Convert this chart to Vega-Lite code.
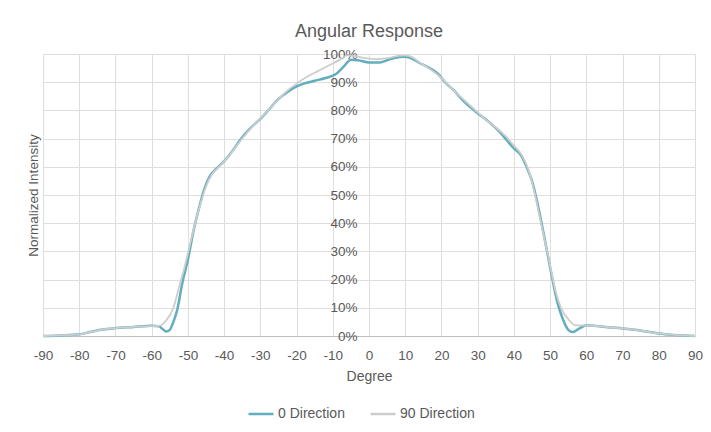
{
  "$schema": "https://vega.github.io/schema/vega-lite/v6.json",
  "autosize": {"type": "none"},
  "width": 652,
  "height": 282,
  "padding": {"left": 43, "top": 54, "right": 16, "bottom": 96},
  "background": "white",
  "config": {
    "font": "Liberation Sans",
    "view": {"stroke": null},
    "axis": {"labelColor": "#595959", "titleColor": "#595959", "labelFont": "Liberation Sans", "titleFont": "Liberation Sans", "titleFontWeight": "normal", "gridColor": "#dedede", "gridWidth": 1}
  },
  "title": {"text": "Angular Response", "fontSize": 18, "fontWeight": "normal", "color": "#595959", "font": "Liberation Sans", "offset": 6},
  "datasets": {
    "d0": [
      {"deg": -90, "v": 0}, {"deg": -85, "v": 0.2}, {"deg": -80, "v": 0.6}, {"deg": -77, "v": 1.4},
      {"deg": -74, "v": 2.2}, {"deg": -70, "v": 2.8}, {"deg": -65, "v": 3.2}, {"deg": -60, "v": 3.6},
      {"deg": -58, "v": 3.5}, {"deg": -57, "v": 2.5}, {"deg": -56, "v": 1.6}, {"deg": -55, "v": 2.2},
      {"deg": -54, "v": 5}, {"deg": -53, "v": 9}, {"deg": -51.5, "v": 19}, {"deg": -50, "v": 27},
      {"deg": -48.5, "v": 37}, {"deg": -47, "v": 45}, {"deg": -45.5, "v": 52}, {"deg": -44, "v": 56.5},
      {"deg": -42, "v": 59.5}, {"deg": -40, "v": 62}, {"deg": -37.5, "v": 66}, {"deg": -35, "v": 70.5},
      {"deg": -32.5, "v": 74}, {"deg": -30, "v": 77}, {"deg": -27.5, "v": 80.5}, {"deg": -25, "v": 84},
      {"deg": -22.5, "v": 86.5}, {"deg": -20, "v": 88.5}, {"deg": -18, "v": 89.5}, {"deg": -15, "v": 90.5},
      {"deg": -12, "v": 91.5}, {"deg": -9, "v": 93}, {"deg": -7, "v": 95.5}, {"deg": -5, "v": 98},
      {"deg": -3, "v": 97.8}, {"deg": 0, "v": 97}, {"deg": 3, "v": 97}, {"deg": 5, "v": 97.8},
      {"deg": 7, "v": 98.6}, {"deg": 10, "v": 99}, {"deg": 12, "v": 98.3}, {"deg": 14, "v": 96.8},
      {"deg": 16, "v": 95.5}, {"deg": 19, "v": 93}, {"deg": 21, "v": 90}, {"deg": 23.5, "v": 87},
      {"deg": 26, "v": 83.5}, {"deg": 29, "v": 80}, {"deg": 31, "v": 78}, {"deg": 33.5, "v": 75.5},
      {"deg": 36, "v": 72.5}, {"deg": 38, "v": 69.5}, {"deg": 40, "v": 66.5}, {"deg": 42, "v": 64},
      {"deg": 43.5, "v": 60}, {"deg": 45, "v": 55}, {"deg": 46, "v": 50}, {"deg": 47.5, "v": 41},
      {"deg": 49, "v": 31}, {"deg": 50.5, "v": 21}, {"deg": 52, "v": 12}, {"deg": 53.5, "v": 6},
      {"deg": 55, "v": 2.2}, {"deg": 56.3, "v": 1.4}, {"deg": 58, "v": 2.6}, {"deg": 60, "v": 3.8},
      {"deg": 63, "v": 3.5}, {"deg": 66, "v": 3.1}, {"deg": 70, "v": 2.7}, {"deg": 74, "v": 2.1},
      {"deg": 77, "v": 1.5}, {"deg": 80, "v": 0.9}, {"deg": 84, "v": 0.4}, {"deg": 90, "v": 0}
    ],
    "d90": [
      {"deg": -90, "v": 0}, {"deg": -85, "v": 0.2}, {"deg": -80, "v": 0.6}, {"deg": -77, "v": 1.4},
      {"deg": -74, "v": 2.2}, {"deg": -70, "v": 2.8}, {"deg": -65, "v": 3.2}, {"deg": -60, "v": 3.5},
      {"deg": -58, "v": 3.6}, {"deg": -56, "v": 5.5}, {"deg": -54, "v": 10}, {"deg": -52.5, "v": 17},
      {"deg": -51, "v": 24}, {"deg": -49.5, "v": 32}, {"deg": -48, "v": 40}, {"deg": -46.5, "v": 47},
      {"deg": -45, "v": 53}, {"deg": -43.5, "v": 57}, {"deg": -41, "v": 60.5}, {"deg": -38, "v": 65},
      {"deg": -35, "v": 70}, {"deg": -32, "v": 74.5}, {"deg": -29, "v": 78.5}, {"deg": -26, "v": 82.5},
      {"deg": -23, "v": 86.5}, {"deg": -20, "v": 89.5}, {"deg": -17, "v": 92}, {"deg": -14, "v": 94},
      {"deg": -11, "v": 96}, {"deg": -8, "v": 98}, {"deg": -6, "v": 99.5}, {"deg": -4, "v": 99.3},
      {"deg": -1, "v": 98.5}, {"deg": 2, "v": 98.2}, {"deg": 5, "v": 98.5}, {"deg": 8, "v": 99.3},
      {"deg": 10, "v": 99.5}, {"deg": 12, "v": 98.8}, {"deg": 14, "v": 97}, {"deg": 17, "v": 94.5},
      {"deg": 20, "v": 91.5}, {"deg": 23, "v": 87.5}, {"deg": 26, "v": 84}, {"deg": 29, "v": 80.5},
      {"deg": 32, "v": 77}, {"deg": 35, "v": 74}, {"deg": 38, "v": 70.5}, {"deg": 40, "v": 67.5},
      {"deg": 42, "v": 64.5}, {"deg": 44, "v": 59}, {"deg": 45.5, "v": 52}, {"deg": 47, "v": 43},
      {"deg": 48.5, "v": 34}, {"deg": 50, "v": 25}, {"deg": 51.5, "v": 16}, {"deg": 53, "v": 10},
      {"deg": 55, "v": 6}, {"deg": 57, "v": 3.8}, {"deg": 60, "v": 3.8}, {"deg": 63, "v": 3.5},
      {"deg": 66, "v": 3.1}, {"deg": 70, "v": 2.7}, {"deg": 74, "v": 2.1}, {"deg": 77, "v": 1.5},
      {"deg": 80, "v": 0.9}, {"deg": 84, "v": 0.4}, {"deg": 90, "v": 0}
    ]
  },
  "encoding": {
    "x": {
      "field": "deg", "type": "quantitative",
      "scale": {"domain": [-90, 90], "nice": false, "zero": false},
      "axis": {
        "values": [-90, -80, -70, -60, -50, -40, -30, -20, -10, 0, 10, 20, 30, 40, 50, 60, 70, 80, 90],
        "labelExpr": "replace(format(datum.value, 'd'), '\u2212', '-')",
        "title": "Degree", "titleFontSize": 14, "labelFontSize": 13.5,
        "ticks": false, "labelPadding": 12, "titlePadding": 8,
        "domainColor": "#bfbfbf", "labelFlush": false, "labelOverlap": false
      }
    },
    "y": {
      "field": "v", "type": "quantitative",
      "scale": {"domain": [0, 100], "nice": false},
      "axis": {
        "values": [0, 10, 20, 30, 40, 50, 60, 70, 80, 90, 100],
        "labelExpr": "datum.value + '%'",
        "offset": -326, "domain": false, "ticks": false, "labelPadding": 12,
        "labelFontSize": 13.5, "title": "Normalized Intensity", "titleFontSize": 13.5,
        "titleX": -336, "titleY": 141, "titleAngle": -90, "titleAlign": "center", "titleBaseline": "middle"
      }
    },
    "color": {
      "field": "series", "type": "nominal",
      "scale": {"domain": ["0 Direction", "90 Direction"], "range": ["#62aebf", "#cdcdcd"]},
      "legend": {
        "title": null, "orient": "none", "direction": "horizontal", "legendX": 204, "legendY": 346,
        "symbolType": "stroke", "symbolSize": 625, "symbolStrokeWidth": 2.5, "labelFontSize": 14,
        "labelColor": "#595959", "labelOffset": 3, "columnPadding": 20, "labelFont": "Liberation Sans"
      }
    }
  },
  "layer": [
    {
      "data": {"name": "d0"},
      "transform": [{"calculate": "'0 Direction'", "as": "series"}],
      "mark": {"type": "line", "interpolate": "monotone", "strokeWidth": 2.5}
    },
    {
      "data": {"name": "d90"},
      "transform": [{"calculate": "'90 Direction'", "as": "series"}],
      "mark": {"type": "line", "interpolate": "monotone", "strokeWidth": 1.8}
    }
  ]
}
